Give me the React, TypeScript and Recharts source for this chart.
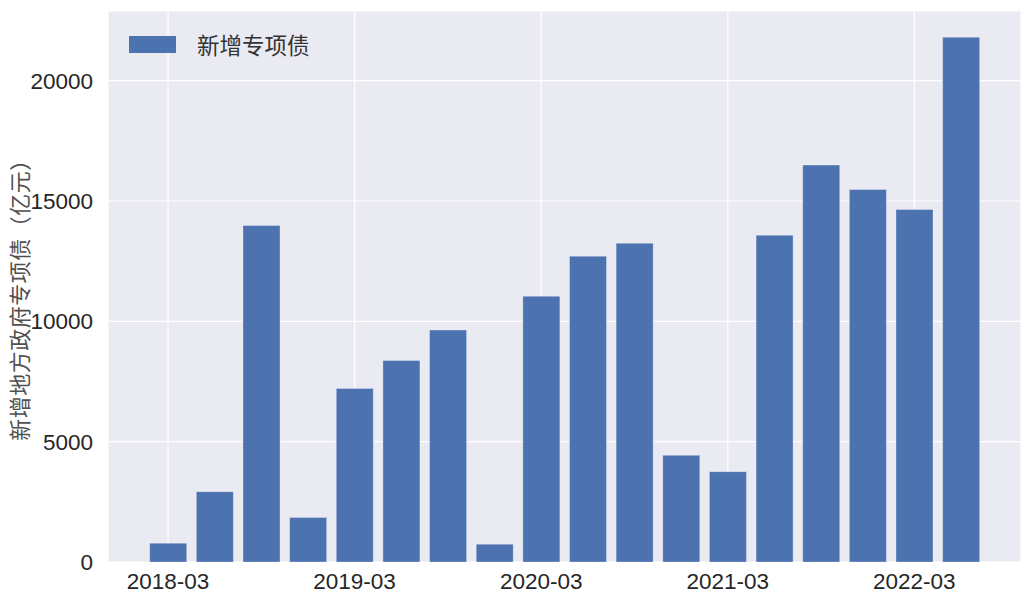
import React from 'react'
import {
  Bar,
  BarChart,
  CartesianGrid,
  XAxis,
  YAxis,
} from 'recharts'

const quarters: string[] = [
  '2018-03', '2018-06', '2018-09', '2018-12',
  '2019-03', '2019-06', '2019-09', '2019-12',
  '2020-03', '2020-06', '2020-09', '2020-12',
  '2021-03', '2021-06', '2021-09', '2021-12',
  '2022-03', '2022-06',
]

const newSpecialBonds: number[] = [
  783, 2922, 13980, 1853,
  7211, 8376, 9638, 741,
  11041, 12706, 13247, 4434,
  3755, 13580, 16494, 15479,
  14646, 21806,
]

const yTicks: number[] = [0, 5000, 10000, 15000, 20000]

const seriesName = '新增专项债'
const yLabel = '新增地方政府专项债（亿元）'

const data = quarters.map((q, i) => ({ quarter: q, value: newSpecialBonds[i] }))
const yMax = Math.max(...newSpecialBonds) * 1.05

const tickFont = '"Liberation Sans", Arial, sans-serif'
const cjkFont = '"Noto Sans CJK SC", sans-serif'

const YLabel = ({ viewBox }: any) => {
  const cx = 18
  const cy = viewBox.y + viewBox.height / 2 + 8
  return (
    <text
      x={cx}
      y={cy}
      transform={`rotate(-90 ${cx} ${cy})`}
      textAnchor="middle"
      dominantBaseline="central"
      fill="#505050"
      style={{ fontFamily: cjkFont, fontSize: 22, letterSpacing: 0.5 }}
    >
      {yLabel}
    </text>
  )
}

export default function App() {
  return (
    <div style={{ position: 'absolute', left: 0, top: 0, width: 1035, height: 604, background: '#fff' }}>
      <BarChart
        width={1035}
        height={604}
        data={data}
        margin={{ top: 11, right: 14, bottom: 0, left: 0 }}
      >
        <CartesianGrid fill="#EAEAF2" stroke="#ffffff" strokeWidth={1.2} />
        <XAxis
          dataKey="quarter"
          interval={3}
          height={42}
          padding={{ left: 36.7, right: 36.7 }}
          tickLine={false}
          axisLine={false}
          tickMargin={5}
          tick={{ fill: '#262626', fontSize: 22.5, fontFamily: tickFont }}
        />
        <YAxis
          width={108}
          domain={[0, yMax]}
          ticks={yTicks}
          tickLine={false}
          axisLine={false}
          tickMargin={9}
          tick={{ fill: '#262626', fontSize: 22.5, fontFamily: tickFont }}
          label={{ content: YLabel }}
        />
        <Bar
          dataKey="value"
          name={seriesName}
          fill="#4C72B0"
          stroke="rgba(255,255,255,0.3)"
          strokeWidth={1}
          barSize={37}
          isAnimationActive={false}
        />
      </BarChart>
      <div
        style={{
          position: 'absolute',
          left: 129,
          top: 31,
          display: 'flex',
          alignItems: 'center',
        }}
      >
        <div style={{ width: 47, height: 17, background: '#4C72B0', marginRight: 21 }} />
        <span style={{ fontFamily: cjkFont, fontSize: 22.5, color: '#333', lineHeight: '26px' }}>
          {seriesName}
        </span>
      </div>
    </div>
  )
}
